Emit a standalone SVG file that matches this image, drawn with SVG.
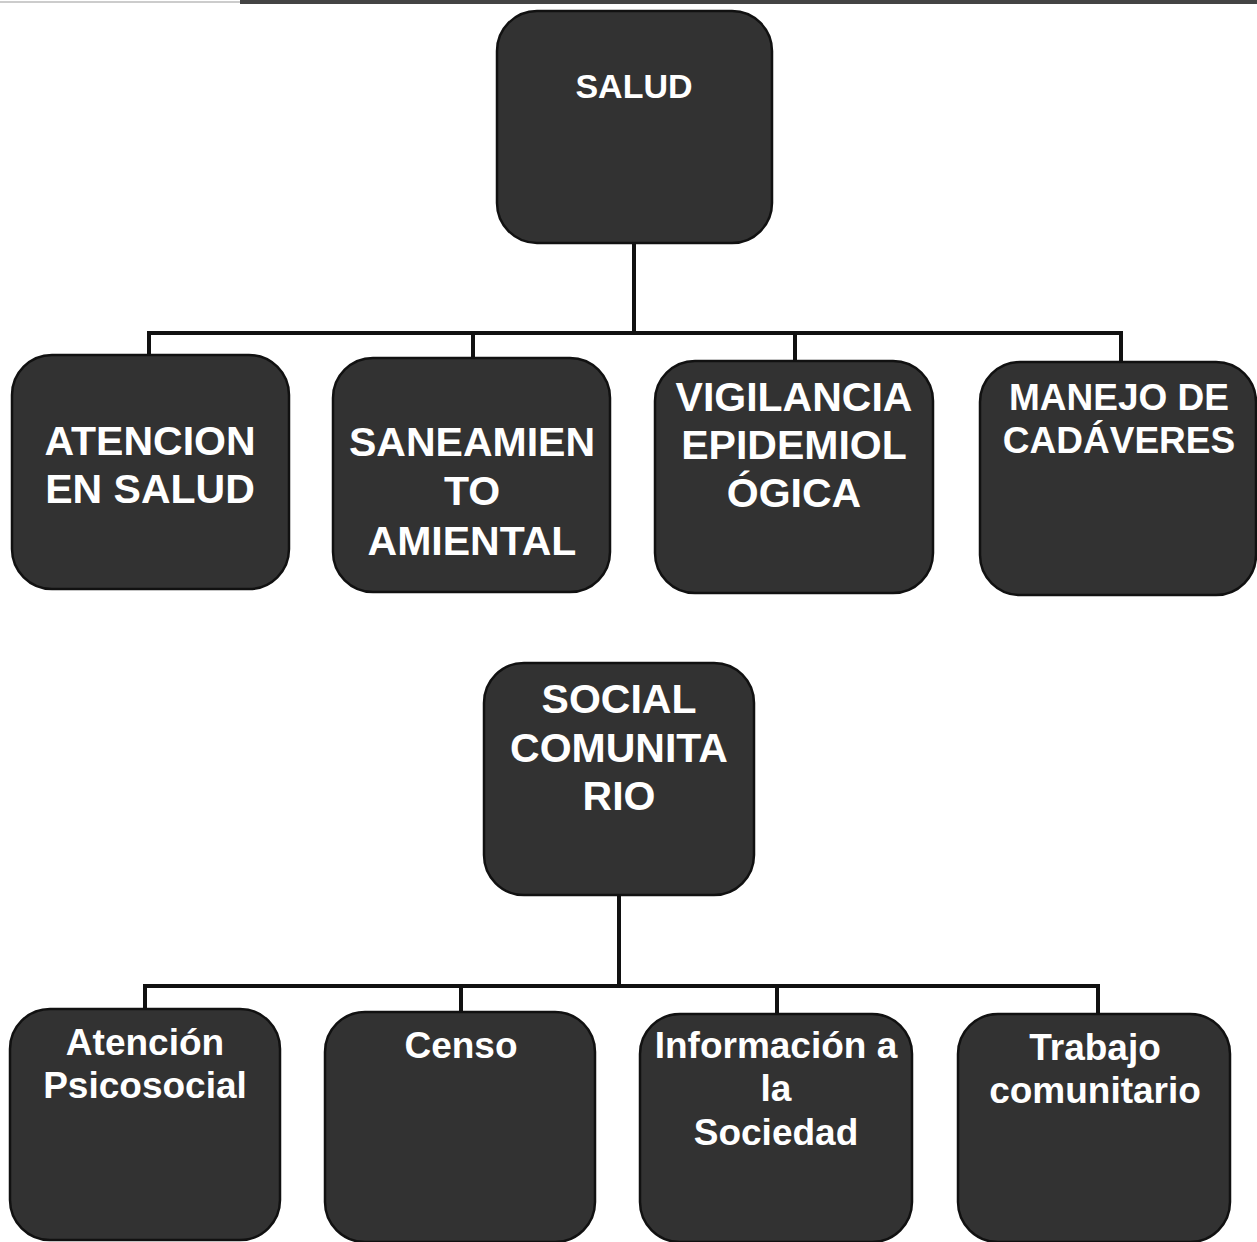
<svg xmlns="http://www.w3.org/2000/svg" width="1257" height="1242" viewBox="0 0 1257 1242">
<style>
.box{fill:#323232;stroke:#111;stroke-width:2.5}
.t{fill:#fff;font-family:"Liberation Sans",Arial,sans-serif;font-weight:bold;text-anchor:middle}
.c{fill:none;stroke:#111;stroke-width:4;stroke-linejoin:miter}
</style>
<rect width="1257" height="1242" fill="#fff"/>
<line x1="0" y1="2" x2="240" y2="2" stroke="#ccc" stroke-width="2"/>
<line x1="240" y1="2" x2="1257" y2="2" stroke="#444" stroke-width="4"/>
<g id="connectors">
<path class="c" d="M634 243V333M149 356V333H1121V362M473 333V358M795 333V361"/>
<path class="c" d="M619 895V986M145 1009V986H1098V1014M461 986V1012M777 986V1014"/>
</g>
<g id="salud">
<rect class="box" x="497" y="11" width="275" height="232" rx="40"/>
<text class="t" x="634" y="98" font-size="34">SALUD</text>
</g>
<g id="atencion-salud">
<rect class="box" x="12" y="355" width="277" height="234" rx="40"/>
<text class="t" x="150" y="455" font-size="41">ATENCION</text>
<text class="t" x="150" y="503" font-size="41">EN SALUD</text>
</g>
<g id="saneamiento">
<rect class="box" x="333" y="358" width="277" height="234" rx="40"/>
<text class="t" x="472" y="456" font-size="41">SANEAMIEN</text>
<text class="t" x="472" y="505" font-size="41">TO</text>
<text class="t" x="472" y="555" font-size="41">AMIENTAL</text>
</g>
<g id="vigilancia">
<rect class="box" x="655" y="361" width="278" height="232" rx="40"/>
<text class="t" x="794" y="411" font-size="41">VIGILANCIA</text>
<text class="t" x="794" y="459" font-size="41">EPIDEMIOL</text>
<text class="t" x="794" y="507" font-size="41">ÓGICA</text>
</g>
<g id="manejo">
<rect class="box" x="980" y="362" width="276" height="233" rx="40"/>
<text class="t" x="1119" y="410" font-size="37">MANEJO DE</text>
<text class="t" x="1119" y="453" font-size="37">CADÁVERES</text>
</g>
<g id="social">
<rect class="box" x="484" y="663" width="270" height="232" rx="40"/>
<text class="t" x="619" y="713" font-size="41">SOCIAL</text>
<text class="t" x="619" y="762" font-size="41">COMUNITA</text>
<text class="t" x="619" y="810" font-size="41">RIO</text>
</g>
<g id="atencion-psicosocial">
<rect class="box" x="10" y="1009" width="270" height="231" rx="40"/>
<text class="t" x="145" y="1055" font-size="37">Atención</text>
<text class="t" x="145" y="1098" font-size="37">Psicosocial</text>
</g>
<g id="censo">
<rect class="box" x="325" y="1012" width="270" height="230" rx="40"/>
<text class="t" x="461" y="1058" font-size="37">Censo</text>
</g>
<g id="informacion">
<rect class="box" x="640" y="1014" width="272" height="228" rx="40"/>
<text class="t" x="776" y="1058" font-size="37">Información a</text>
<text class="t" x="776" y="1101" font-size="37">la</text>
<text class="t" x="776" y="1145" font-size="37">Sociedad</text>
</g>
<g id="trabajo">
<rect class="box" x="958" y="1014" width="272" height="228" rx="40"/>
<text class="t" x="1095" y="1060" font-size="37">Trabajo</text>
<text class="t" x="1095" y="1103" font-size="37">comunitario</text>
</g>
</svg>
